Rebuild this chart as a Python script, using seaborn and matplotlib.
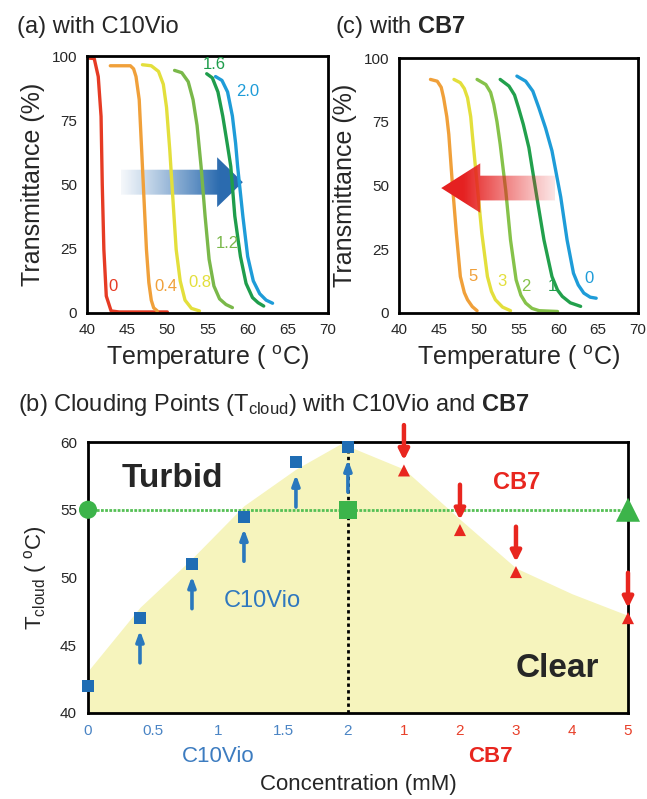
import numpy as np
import pandas as pd
import seaborn as sns
import matplotlib.pyplot as plt
from matplotlib.patches import Polygon

# ---- (a) transmittance vs temperature, C10Vio added (mM) ----
a_labels = ["0", "0.4", "0.8", "1.2", "1.6", "2.0"]
a_T = [
    [40.2, 40.9, 41.4, 41.75, 41.9, 42.1, 42.4, 43.0, 44.0, 50.0],
    [42.9, 45.4, 45.8, 46.1, 46.5, 46.8, 47.1, 47.4, 47.7, 48.0, 48.3, 48.75],
    [46.9, 48.0, 48.9, 49.5, 49.9, 50.3, 50.7, 51.1, 51.6, 52.2, 53.0, 54.0],
    [50.9, 51.8, 52.6, 53.2, 53.7, 54.2, 54.7, 55.2, 55.8, 56.5, 57.3, 58.1],
    [54.9, 55.6, 56.3, 56.9, 57.5, 57.9, 58.4, 59.1, 59.8, 60.6, 61.3, 62.0],
    [56.0, 56.8, 57.5, 58.1, 58.5, 58.75, 59.4, 60.0, 60.7, 61.5, 62.3, 63.1],
]
a_Y = [
    [99.2, 99.0, 92.0, 76.5, 50.0, 24.7, 6.6, 0.8, 0.4, 0.4],
    [96.2, 96.2, 95.0, 92.0, 83.0, 63.6, 44.0, 24.7, 11.8, 5.0, 2.0, 0.8],
    [96.6, 96.2, 94.0, 89.0, 80.0, 63.6, 44.0, 24.7, 12.5, 5.0, 1.8, 0.8],
    [94.4, 93.5, 90.0, 83.0, 73.0, 57.0, 37.7, 20.9, 10.5, 5.5, 3.3, 2.1],
    [93.1, 91.5, 86.0, 76.6, 65.0, 57.0, 37.7, 22.0, 11.5, 6.0, 4.0, 2.7],
    [92.0, 90.5, 86.0, 76.6, 66.0, 57.0, 37.7, 22.0, 12.5, 7.5, 5.0, 3.8],
]
a_colors = ["#e63b24", "#f0a03a", "#e3df3c", "#7ab84a", "#1f9d4c", "#1e9cd8"]
a_lab_T = [43.2, 49.8, 54.0, 57.5, 55.8, 60.0]
a_lab_Y = [10.5, 10.5, 11.8, 27.0, 96.6, 86.0]

# ---- (c) transmittance vs temperature, CB7 added (mM) ----
c_labels = ["5", "3", "2", "1", "0"]
c_T = [
    [43.95, 44.8, 45.3, 45.6, 46.0, 46.25, 46.7, 47.2, 47.7, 48.2, 48.6, 49.2, 49.8],
    [46.9, 47.7, 48.2, 48.6, 49.0, 49.2, 49.8, 50.4, 51.1, 51.6, 52.1, 53.0, 54.0],
    [49.8, 50.9, 51.5, 51.9, 52.3, 52.7, 53.4, 54.0, 54.7, 55.3, 55.9, 56.7, 57.6, 59.9],
    [52.7, 53.8, 54.5, 55.0, 55.6, 56.3, 57.3, 58.2, 59.2, 59.9, 60.5, 61.5, 62.8],
    [54.8, 55.9, 56.8, 57.55, 58.4, 59.2, 60.3, 61.1, 61.9, 62.5, 63.2, 64.0, 64.75],
]
c_Y = [
    [91.6, 90.9, 88.5, 84.4, 77.0, 70.1, 50.6, 31.2, 14.3, 8.0, 5.2, 2.5, 0.9],
    [91.6, 90.3, 88.0, 84.4, 77.0, 70.1, 50.6, 31.2, 14.3, 8.5, 5.2, 2.3, 0.9],
    [91.6, 89.6, 86.5, 81.8, 75.0, 66.2, 48.0, 28.6, 13.0, 7.0, 3.9, 1.8, 0.9, 0.6],
    [91.6, 89.0, 85.5, 80.5, 74.0, 64.9, 45.5, 28.6, 14.3, 9.0, 6.5, 4.0, 2.6],
    [92.9, 90.9, 87.0, 80.5, 72.5, 63.6, 45.5, 28.6, 15.6, 11.0, 7.8, 6.2, 5.8],
]
c_colors = ["#f0a03a", "#e3df3c", "#86c24a", "#22a04c", "#1e9cd8"]
c_lab_T = [49.3, 52.9, 55.9, 59.2, 63.8]
c_lab_Y = [14.3, 12.3, 10.4, 10.4, 13.6]

# ---- (b) clouding points ----
c10_conc = [0, 0.4, 0.8, 1.2, 1.6, 2.0]
c10_tcloud = [42.0, 47.0, 51.0, 54.5, 58.5, 59.6]
cb7_conc = [1, 2, 3, 5]
cb7_tcloud = [57.9, 53.5, 50.4, 47.0]
t_ref = 55.0
fill_c10_conc = [0, 0.4, 0.8, 1.2, 1.6, 1.95]
fill_c10_top = [43.1, 47.8, 51.4, 55.3, 58.0, 59.9]
fill_cb7_conc = [1, 2, 3, 4, 5]
fill_cb7_top = [58.0, 54.3, 50.7, 48.8, 47.2]
c10_ticks = [0, 0.5, 1, 1.5, 2]
cb7_ticks = [1, 2, 3, 4, 5]

CB7_SCALE = 0.431  # CB7 axis: 1 mM of CB7 spans this much of the shared x axis
def cb7_pos(c):
    return 2 + CB7_SCALE * np.asarray(c, dtype=float)

sns.set_style("white")
plt.rcParams['font.family'] = ['Liberation Sans', 'DejaVu Sans']
plt.rcParams['mathtext.fontset'] = 'custom'
plt.rcParams['mathtext.rm'] = 'Liberation Sans'
plt.rcParams['mathtext.it'] = 'Liberation Sans:italic'
plt.rcParams['mathtext.bf'] = 'Liberation Sans:bold'

W, H = 647, 799
fig = plt.figure(figsize=(W / 100, H / 100), dpi=100)

def px_axes(l, t, r, b):
    return fig.add_axes([l / W, 1 - b / H, (r - l) / W, (b - t) / H])

ax_a = px_axes(87, 56, 328, 313)
ax_c = px_axes(399, 58, 638, 313)
ax_b = px_axes(88, 442, 628, 713)


def gradient_arrow(ax, tail, tip, yc, shaft_h, head_h, head_len, rgb, alpha_min=0.0, z=3):
    d = 1 if tip > tail else -1
    base = tip - d * head_len
    verts = [(tail, yc - shaft_h / 2), (base, yc - shaft_h / 2), (base, yc - head_h / 2),
             (tip, yc), (base, yc + head_h / 2), (base, yc + shaft_h / 2), (tail, yc + shaft_h / 2)]
    poly = Polygon(verts, closed=True, facecolor='none', edgecolor='none', transform=ax.transData)
    ax.add_patch(poly)
    n = 256
    ramp = np.linspace(0, 1, n)
    alpha = alpha_min + (1 - alpha_min) * np.clip((ramp if d > 0 else ramp[::-1]) * 1.25, 0, 1) ** 1.1
    img = np.zeros((1, n, 4))
    img[..., 0], img[..., 1], img[..., 2] = rgb
    img[0, :, 3] = alpha
    x0, x1 = min(tail, tip), max(tail, tip)
    im = ax.imshow(img, extent=[x0, x1, yc - head_h / 2, yc + head_h / 2], aspect='auto',
                   origin='lower', zorder=z, interpolation='bilinear')
    im.set_clip_path(poly)


def style_top(ax):
    ax.set_xlim(40, 70)
    ax.set_ylim(0, 100)
    ax.set_xticks(range(40, 71, 5))
    ax.set_yticks(range(0, 101, 25))
    ax.tick_params(direction='in', length=4, width=1, labelsize=11, pad=7)
    for s in ax.spines.values():
        s.set_linewidth(2)
        s.set_color('black')
    ax.set_xlabel("Temperature ( $^{\\mathrm{o}}$C)", fontsize=18, labelpad=5)
    ax.set_ylabel("Transmittance (%)", fontsize=18, labelpad=5)


# panel (a)
rows = []
for lab, ts, ys in zip(a_labels, a_T, a_Y):
    rows += [dict(T=t, Y=y, conc=lab) for t, y in zip(ts, ys)]
df_a = pd.DataFrame(rows)
gradient_arrow(ax_a, 44.2, 59.4, 50.9, 9.7, 19.4, 3.2, (0.17, 0.42, 0.69), alpha_min=0.05, z=1)
sns.lineplot(data=df_a, x="T", y="Y", hue="conc", palette=dict(zip(a_labels, a_colors)),
             sort=False, estimator=None, lw=2.4, legend=False, ax=ax_a, zorder=2)
for lab, t, y, col in zip(a_labels, a_lab_T, a_lab_Y, a_colors):
    ax_a.text(t, y, lab, color=col, fontsize=12, ha='center', va='center')
style_top(ax_a)

# panel (c)
rows = []
for lab, ts, ys in zip(c_labels, c_T, c_Y):
    rows += [dict(T=t, Y=y, conc=lab) for t, y in zip(ts, ys)]
df_c = pd.DataFrame(rows)
sns.lineplot(data=df_c, x="T", y="Y", hue="conc", palette=dict(zip(c_labels, c_colors)),
             sort=False, estimator=None, lw=2.4, legend=False, ax=ax_c, zorder=2)
gradient_arrow(ax_c, 59.6, 45.3, 49.0, 9.7, 19.4, 4.9, (0.90, 0.13, 0.13), alpha_min=0.12, z=3)
for lab, t, y, col in zip(c_labels, c_lab_T, c_lab_Y, c_colors):
    ax_c.text(t, y, lab, color=col, fontsize=12, ha='center', va='center')
style_top(ax_c)

# panel (b)
ax = ax_b
fill_x = np.concatenate([fill_c10_conc, cb7_pos(fill_cb7_conc)])
fill_y = np.concatenate([fill_c10_top, fill_cb7_top])
ax.fill_between(fill_x, 40, fill_y, color='#f6f4bd', lw=0, zorder=0)
ax.axhline(t_ref, color='#55c055', lw=2, ls=(0, (1, 0.5)), zorder=1)
ax.axvline(2, color='black', lw=2, ls=(0, (1.2, 1.2)), zorder=1)

df_c10 = pd.DataFrame(dict(x=c10_conc, T=c10_tcloud))
df_cb7 = pd.DataFrame(dict(x=cb7_pos(cb7_conc), T=cb7_tcloud))
sns.scatterplot(data=df_c10, x="x", y="T", marker='s', s=75, color='#1f6db4', edgecolor='none',
                ax=ax, zorder=4, clip_on=False)
sns.scatterplot(data=df_cb7, x="x", y="T", marker='^', s=75, color='#e8261f', edgecolor='none',
                ax=ax, zorder=4, clip_on=False)
ref_x = [0, 2, float(cb7_pos(5))]
for xx, mk, sz in zip(ref_x, ['o', 's', '^'], [170, 170, 300]):
    ax.scatter([xx], [t_ref], marker=mk, s=sz, color='#3cb44a', edgecolor='none', zorder=5, clip_on=False)

for xx, v in zip(c10_conc[1:], c10_tcloud[1:]):
    tip = v - 0.9
    ax.annotate("", xy=(xx, tip), xytext=(xx, tip - 2.4),
                arrowprops=dict(arrowstyle='-|>,head_length=0.6,head_width=0.22', lw=2.6,
                                color='#2a78bd', shrinkA=0, shrinkB=0), zorder=3)
for xx, v in zip(cb7_pos(cb7_conc), cb7_tcloud):
    tip = v + 0.75
    ax.annotate("", xy=(xx, tip), xytext=(xx, tip + 2.6),
                arrowprops=dict(arrowstyle='-|>,head_length=0.6,head_width=0.3', lw=3.2,
                                color='#e8261f', shrinkA=0, shrinkB=0),
                zorder=3, annotation_clip=False)

ax.text(0.65, 57.3, "Turbid", fontsize=24, fontweight='bold', ha='center', va='center')
ax.text(3.61, 43.3, "Clear", fontsize=24, fontweight='bold', ha='center', va='center')
ax.text(3.30, 57.0, "CB7", fontsize=17, fontweight='bold', color='#e8261f', ha='center', va='center')
ax.text(1.34, 48.3, "C10Vio", fontsize=17, color='#2f78bf', ha='center', va='center')

ax.set_xlim(0, float(cb7_pos(5)))
ax.set_ylim(40, 60)
ax.set_yticks(range(40, 61, 5))
tick_pos = list(c10_ticks) + list(cb7_pos(cb7_ticks))
tick_lab = [f"{t:g}" for t in c10_ticks] + [f"{t:g}" for t in cb7_ticks]
ax.set_xticks(tick_pos, tick_lab)
for lbl, col in zip(ax.get_xticklabels(), ['#4a84c4'] * 5 + ['#e8402a'] * 5):
    lbl.set_color(col)
ax.tick_params(direction='in', length=4, width=1, labelsize=11, pad=8)
for s in ax.spines.values():
    s.set_linewidth(2)
    s.set_color('black')
ax.set_xlabel("Concentration (mM)", fontsize=16, labelpad=26)
ax.set_ylabel("T$_{\\mathrm{cloud}}$ ( $^{\\mathrm{o}}$C)", fontsize=16, labelpad=8)
ax.text(1.0, -0.16, "C10Vio", transform=ax.get_xaxis_transform(), fontsize=16,
        color='#3d7cc0', ha='center', va='center')
ax.text(3.1, -0.16, "CB7", transform=ax.get_xaxis_transform(), fontsize=16, fontweight='bold',
        color='#e8261f', ha='center', va='center')

fig.text(17 / W, 1 - 27 / H, "(a) with C10Vio", fontsize=17, va='center')
fig.text(335 / W, 1 - 27 / H, "(c) with $\\mathbf{CB7}$", fontsize=17, va='center')
fig.text(18 / W, 1 - 405 / H, "(b) Clouding Points (T$_{\\mathrm{cloud}}$) with C10Vio and $\\mathbf{CB7}$",
         fontsize=17, va='center')

fig.savefig("out.png", dpi=100)
